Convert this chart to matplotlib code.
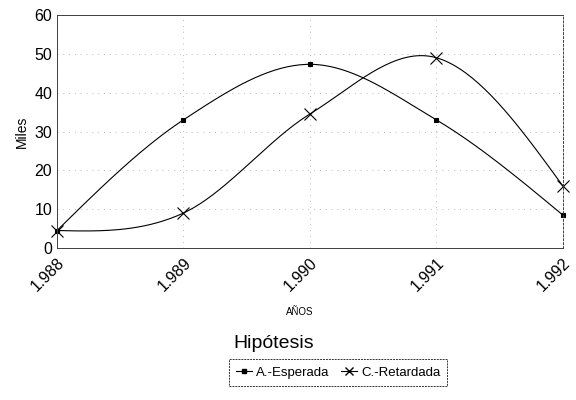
import numpy as np
import matplotlib
matplotlib.use("Agg")
import matplotlib.pyplot as plt
from matplotlib.lines import Line2D

years = [1988, 1989, 1990, 1991, 1992]
year_labels = ["1.988", "1.989", "1.990", "1.991", "1.992"]
esperada = [4.5, 33.0, 47.3, 33.0, 8.5]
retardada = [4.5, 9.0, 34.5, 49.0, 16.0]


def smooth(x, y, n=40):
    # Hermite curve through the points, centred slopes inside
    x = np.asarray(x, float)
    y = np.asarray(y, float)
    m = np.gradient(y, x)
    sec = np.diff(y) / np.diff(x)
    m[0] = 1.5 * sec[0] - 0.5 * m[1]
    m[-1] = 1.5 * sec[-1] - 0.5 * m[-2]
    xs, ys = [], []
    for i in range(len(x) - 1):
        h = x[i + 1] - x[i]
        t = np.linspace(0, 1, n)
        h00 = 2 * t**3 - 3 * t**2 + 1
        h10 = t**3 - 2 * t**2 + t
        h01 = -2 * t**3 + 3 * t**2
        h11 = t**3 - t**2
        xs.append(x[i] + t * h)
        ys.append(h00 * y[i] + h10 * h * m[i] + h01 * y[i + 1] + h11 * h * m[i + 1])
    return np.concatenate(xs), np.concatenate(ys)


plt.rcParams["font.family"] = ["Liberation Sans", "DejaVu Sans"]

fig = plt.figure(figsize=(5.76, 4.0), dpi=100)
ax = fig.add_axes([0.099, 0.38, 0.878, 0.5825])

for vals, mk, ms in [(esperada, "s", 2.5), (retardada, "x", 8)]:
    sx, sy = smooth(years, vals)
    ax.plot(sx, sy, color="black", lw=0.8, clip_on=False)
    ax.plot(years, vals, ls="none", marker=mk, ms=ms, color="black", mew=0.8, clip_on=False)

ax.set_xlim(1988, 1992)
ax.set_ylim(0, 60)
ax.set_yticks(range(0, 61, 10))
ax.set_xticks(years)
ax.set_xticklabels(year_labels, rotation=45, ha="right", rotation_mode="anchor")
ax.tick_params(axis="both", length=0, labelsize=11.5)
ax.tick_params(axis="x", pad=5)
ax.grid(True, color="0.65", ls=(0, (1, 6)), lw=0.6)
for s in ax.spines.values():
    s.set_linewidth(0.7)
    s.set_color("0.25")
ax.spines["right"].set_linestyle((0, (2, 2)))
ax.set_ylabel("Miles", fontsize=10)
ax.set_xlabel("AÑOS", fontsize=7)
ax.xaxis.set_label_coords(0.48, -0.255)

fig.text(0.475, 0.14, "Hipótesis", fontsize=14, ha="center", va="center")
handles = [
    Line2D([], [], color="black", lw=0.8, marker="s", ms=2.5),
    Line2D([], [], color="black", lw=0.8, marker="x", ms=6),
]
leg = fig.legend(handles, ["A.-Esperada", "C.-Retardada"], loc="center",
                 bbox_to_anchor=(0.587, 0.068), ncol=2, fontsize=9.5,
                 frameon=True, fancybox=False, handlelength=1.2,
                 handletextpad=0.3, columnspacing=0.9, borderpad=0.55)
leg.get_frame().set_edgecolor("black")
leg.get_frame().set_linewidth(0.7)
leg.get_frame().set_linestyle((0, (2, 1)))

fig.savefig("out.png", dpi=100)
